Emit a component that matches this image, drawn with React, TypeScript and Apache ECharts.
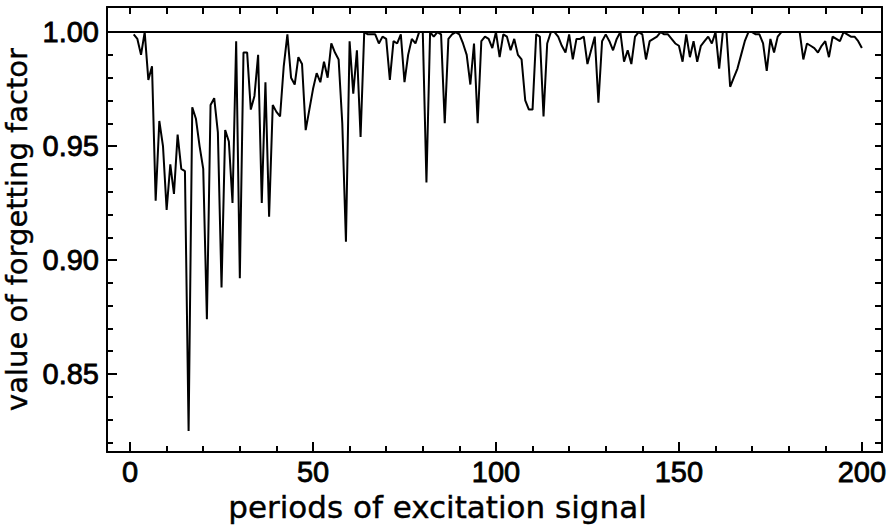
import React, { useEffect, useRef } from "react";
import * as echarts from "echarts";

// x: period number 1..200
const PERIODS: number[] = Array.from({ length: 200 }, (_, i) => i + 1);

// value of forgetting factor (periods 1..200)
const FACTOR: number[] = [
  0.999, 0.997, 0.990, 1.000, 0.979, 0.985, 0.926, 0.961, 0.950, 0.922,
  0.942, 0.929, 0.955, 0.940, 0.939, 0.825, 0.967, 0.962, 0.950, 0.940,
  0.874, 0.968, 0.971, 0.956, 0.888, 0.957, 0.952, 0.925, 0.996, 0.892,
  0.991, 0.991, 0.966, 0.972, 0.990, 0.925, 0.978, 0.919, 0.968, 0.965,
  0.963, 0.985, 0.999, 0.980, 0.977, 0.989, 0.986, 0.957, 0.966, 0.975,
  0.982, 0.978, 0.987, 0.980, 0.995, 0.991, 0.988, 0.960, 0.908, 0.996,
  0.973, 0.992, 0.954, 1.000, 0.999, 0.999, 0.999, 0.995, 0.998, 0.997,
  0.979, 0.996, 0.995, 0.999, 0.978, 0.990, 0.997, 0.995, 1.000, 1.000,
  0.934, 1.000, 0.998, 1.000, 0.999, 0.960, 0.997, 0.999, 1.000, 0.999,
  0.995, 0.990, 0.977, 0.995, 0.960, 0.996, 0.998, 0.997, 0.993, 1.000,
  0.989, 0.999, 0.998, 0.992, 0.997, 0.990, 0.988, 0.970, 0.966, 0.966,
  0.999, 0.998, 0.963, 0.995, 1.000, 1.000, 0.998, 0.994, 0.991, 0.999,
  0.988, 0.997, 0.997, 0.998, 0.986, 0.992, 0.998, 0.969, 0.996, 0.999,
  0.996, 0.992, 0.997, 1.000, 0.987, 0.992, 0.986, 0.998, 1.000, 0.999,
  0.988, 0.996, 0.997, 0.998, 1.000, 0.999, 0.999, 0.997, 0.995, 0.994,
  0.987, 0.999, 0.989, 0.996, 0.987, 0.994, 0.996, 0.998, 0.995, 1.000,
  0.984, 1.000, 1.000, 0.976, 0.980, 0.984, 0.990, 0.996, 1.000, 1.000,
  0.999, 0.999, 0.995, 0.983, 0.997, 0.991, 0.998, 1.000, 1.000, 1.000,
  1.000, 1.000, 1.000, 0.988, 0.995, 0.994, 0.993, 0.991, 0.994, 0.996,
  0.989, 0.998, 0.997, 0.996, 1.000, 0.999, 0.998, 0.998, 0.996, 0.993,
];

const REFERENCE_LEVEL = 1.0;

const X_MIN = -6.3;
const X_MAX = 205.5;
const Y_MIN = 0.8158;
const Y_MAX = 1.011;

const X_LABELS: number[] = [0, 50, 100, 150, 200];
const X_MINOR: number[] = [10, 20, 30, 40, 60, 70, 80, 90, 110, 120, 130, 140, 160, 170, 180, 190];
const X_TOP: number[] = [0, 10, 20, 30, 40, 50, 60, 70, 80, 90, 100, 110, 120, 130, 140, 150, 160, 170, 180, 190, 200];
const Y_LABELS: number[] = [0.85, 0.9, 0.95, 1.0];
const Y_MINOR: number[] = [0.82, 0.83, 0.84, 0.86, 0.87, 0.88, 0.89, 0.91, 0.92, 0.93, 0.94, 0.96, 0.97, 0.98, 0.99];
const Y_RIGHT: number[] = [0.82, 0.83, 0.84, 0.85, 0.86, 0.87, 0.88, 0.89, 0.9, 0.91, 0.92, 0.93, 0.94, 0.95, 0.96, 0.97, 0.98, 0.99, 1.0];

const FONT = "'Liberation Sans', Arial, Helvetica, sans-serif";
const TITLE_FONT = "'DejaVu Sans', 'Liberation Sans', sans-serif";
const BLACK = "#000";

function tickText() {
  return {
    color: BLACK,
    fontSize: 29,
    fontFamily: FONT,
    textBorderColor: BLACK,
    textBorderWidth: 0.8,
  };
}

function titleText(size: number, padding: number[]) {
  return {
    color: BLACK,
    fontSize: size,
    fontFamily: TITLE_FONT,
    textBorderColor: BLACK,
    textBorderWidth: 0.4,
    padding,
  };
}

function frameAxis(position: string, min: number, max: number, ticks: number[], tickLen: number, showLine: boolean) {
  return {
    type: "value",
    position,
    min,
    max,
    splitLine: { show: false },
    axisLine: { show: showLine, onZero: false, lineStyle: { color: BLACK, width: 2 } },
    axisTick: { show: true, inside: true, length: tickLen, customValues: ticks, lineStyle: { color: BLACK, width: 2 } },
    axisLabel: { show: false },
  };
}

export default function App() {
  const ref = useRef<HTMLDivElement>(null);

  useEffect(() => {
    if (!ref.current) return;
    const chart = echarts.init(ref.current, null, { renderer: "svg" });
    chart.setOption({
      animation: false,
      backgroundColor: "#fff",
      grid: { left: 107, right: 7, top: 7, bottom: 73, containLabel: false, outerBoundsMode: "none" },
      xAxis: [
        {
          ...frameAxis("bottom", X_MIN, X_MAX, X_LABELS, 10, true),
          axisLabel: { show: true, customValues: X_LABELS, margin: 5, ...tickText() },
          name: "periods of excitation signal",
          nameLocation: "middle",
          nameGap: 35,
          nameTextStyle: titleText(31, [0, 114, 0, 0]),
        },
        frameAxis("bottom", X_MIN, X_MAX, X_MINOR, 6, false),
        frameAxis("top", X_MIN, X_MAX, X_TOP, 7, true),
      ],
      yAxis: [
        {
          ...frameAxis("left", Y_MIN, Y_MAX, Y_LABELS, 10, true),
          axisLabel: {
            show: true,
            customValues: Y_LABELS,
            margin: 8,
            formatter: (v: number) => v.toFixed(2),
            ...tickText(),
          },
          name: "value of forgetting factor",
          nameLocation: "middle",
          nameGap: 64,
          nameRotate: 90,
          nameTextStyle: titleText(29, [0, 0, 0, 0]),
        },
        frameAxis("left", Y_MIN, Y_MAX, Y_MINOR, 6, false),
        frameAxis("right", Y_MIN, Y_MAX, Y_RIGHT, 7, true),
      ],
      series: [
        {
          type: "line",
          xAxisIndex: 0,
          yAxisIndex: 0,
          data: PERIODS.map((p, i) => [p, FACTOR[i]]),
          showSymbol: false,
          symbol: "none",
          lineStyle: { color: BLACK, width: 2 },
          markLine: {
            silent: true,
            symbol: "none",
            label: { show: false },
            lineStyle: { color: BLACK, width: 2, type: "solid" },
            data: [{ yAxis: REFERENCE_LEVEL }],
          },
        },
      ],
    });
    return () => chart.dispose();
  }, []);

  return <div ref={ref} style={{ width: 889, height: 525, position: "absolute", left: 0, top: 0 }} />;
}
